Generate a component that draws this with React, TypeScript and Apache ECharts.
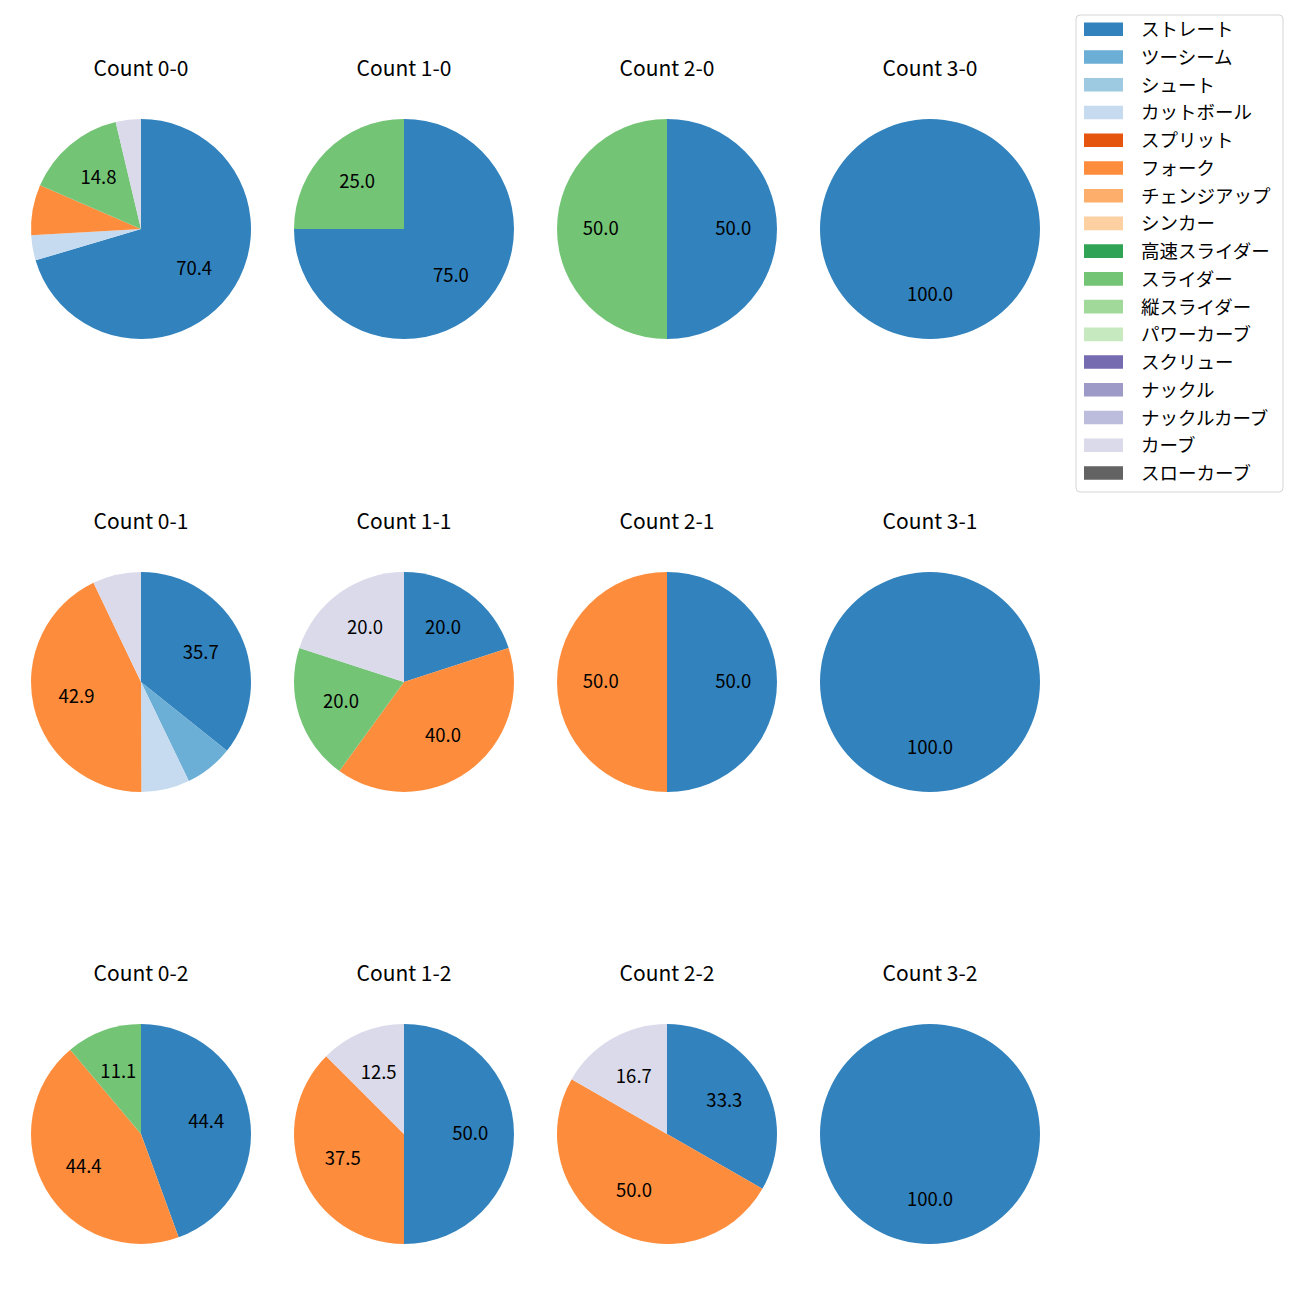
import React, { useEffect, useRef } from "react";
import * as echarts from "echarts";

// Pitch types (legend order) and their colours
const pitchTypes = [
  "ストレート", "ツーシーム", "シュート", "カットボール", "スプリット", "フォーク",
  "チェンジアップ", "シンカー", "高速スライダー", "スライダー", "縦スライダー",
  "パワーカーブ", "スクリュー", "ナックル", "ナックルカーブ", "カーブ", "スローカーブ",
];
const pitchColors = [
  "#3182bd", "#6baed6", "#9ecae1", "#c6dbef", "#e6550d", "#fd8d3c",
  "#fdae6b", "#fdd0a2", "#31a354", "#74c476", "#a1d99b",
  "#c7e9c0", "#756bb1", "#9e9ac8", "#bcbddc", "#dadaeb", "#636363",
];

// Per-count data (percentages)
const count00Names = ["ストレート", "カットボール", "フォーク", "スライダー", "カーブ"];
const count00Values = [70.4, 3.7, 7.4, 14.8, 3.7];
const count10Names = ["ストレート", "スライダー"];
const count10Values = [75.0, 25.0];
const count20Names = ["ストレート", "スライダー"];
const count20Values = [50.0, 50.0];
const count30Names = ["ストレート"];
const count30Values = [100.0];

const count01Names = ["ストレート", "ツーシーム", "カットボール", "フォーク", "カーブ"];
const count01Values = [35.7, 7.1, 7.1, 42.9, 7.1];
const count11Names = ["ストレート", "フォーク", "スライダー", "カーブ"];
const count11Values = [20.0, 40.0, 20.0, 20.0];
const count21Names = ["ストレート", "フォーク"];
const count21Values = [50.0, 50.0];
const count31Names = ["ストレート"];
const count31Values = [100.0];

const count02Names = ["ストレート", "フォーク", "スライダー"];
const count02Values = [44.4, 44.4, 11.1];
const count12Names = ["ストレート", "フォーク", "カーブ"];
const count12Values = [50.0, 37.5, 12.5];
const count22Names = ["ストレート", "フォーク", "カーブ"];
const count22Values = [33.3, 50.0, 16.7];
const count32Names = ["ストレート"];
const count32Values = [100.0];

const panelTitles = [
  ["Count 0-0", "Count 1-0", "Count 2-0", "Count 3-0"],
  ["Count 0-1", "Count 1-1", "Count 2-1", "Count 3-1"],
  ["Count 0-2", "Count 1-2", "Count 2-2", "Count 3-2"],
];
const panelNames = [
  [count00Names, count10Names, count20Names, count30Names],
  [count01Names, count11Names, count21Names, count31Names],
  [count02Names, count12Names, count22Names, count32Names],
];
const panelValues = [
  [count00Values, count10Values, count20Values, count30Values],
  [count01Values, count11Values, count21Values, count31Values],
  [count02Values, count12Values, count22Values, count32Values],
];

// Layout
const colX = [141, 404, 667, 930];
const rowY = [229, 682, 1134];
const titleY = [67, 520, 972];
const pieR = 110;
const FONT = "'Noto Sans CJK JP', 'Noto Sans', sans-serif";

function colorOf(name: string): string {
  const i = pitchTypes.indexOf(name);
  return i >= 0 ? pitchColors[i] : "#999";
}

export default function App() {
  const ref = useRef<HTMLDivElement>(null);
  useEffect(() => {
    if (!ref.current) return;
    const chart = echarts.init(ref.current, undefined, { renderer: "svg" });

    const titles: any[] = [];
    const series: any[] = [];
    for (let r = 0; r < 3; r++) {
      for (let c = 0; c < 4; c++) {
        const names = panelNames[r][c];
        const vals = panelValues[r][c];
        titles.push({
          text: panelTitles[r][c],
          left: colX[c],
          top: titleY[r],
          textAlign: "center",
          textVerticalAlign: "middle",
          padding: 0,
          textStyle: { fontFamily: FONT, fontSize: 21, fontWeight: "normal", color: "#000" },
        });
        series.push({
          type: "pie",
          center: [colX[c], rowY[r]],
          radius: [0, pieR],
          clockwise: true,
          startAngle: 90,
          silent: true,
          label: { show: false },
          labelLine: { show: false },
          emphasis: { disabled: true },
          data: names.map((n, i) => ({ name: n, value: vals[i], itemStyle: { color: colorOf(n) } })),
        });
        // label layer placed near 0.6 of the radius
        series.push({
          type: "pie",
          center: [colX[c], rowY[r]],
          radius: [pieR * 0.15, pieR],
          clockwise: true,
          startAngle: 90,
          silent: true,
          z: 3,
          label: {
            show: true,
            position: "inside",
            fontFamily: FONT,
            fontSize: 18.5,
            color: "#000",
            offset: [0, -2],
            formatter: (p: any) => (p.value >= 10 ? Number(p.value).toFixed(1) : ""),
          },
          labelLine: { show: false },
          emphasis: { disabled: true },
          itemStyle: { color: "rgba(0,0,0,0)" },
          data: names.map((n, i) => ({ name: n, value: vals[i], itemStyle: { color: "rgba(0,0,0,0)" } })),
        });
      }
    }

    // Legend (drawn as graphic)
    const lgX = 1076, lgY = 15, lgW = 207, lgH = 477;
    const rowGap = 27.73;
    const firstRowY = 29.3;
    const graphics: any[] = [
      {
        type: "rect",
        shape: { x: lgX, y: lgY, width: lgW, height: lgH, r: 4 },
        style: { fill: "#fff", stroke: "#d5d5d5", lineWidth: 1 },
        silent: true,
      },
    ];
    pitchTypes.forEach((name, i) => {
      const cy = firstRowY + i * rowGap;
      graphics.push({
        type: "rect",
        shape: { x: 1084, y: cy - 6.8, width: 39, height: 13.6 },
        style: { fill: pitchColors[i] },
        silent: true,
      });
      graphics.push({
        type: "text",
        x: 1141,
        y: cy - 1,
        style: {
          text: name,
          fill: "#000",
          font: `18.5px ${FONT}`,
          verticalAlign: "middle",
          align: "left",
        },
        silent: true,
      });
    });

    chart.setOption({
      animation: false,
      backgroundColor: "#fff",
      title: titles,
      series,
      graphic: graphics,
    });
    return () => chart.dispose();
  }, []);

  return (
    <div
      ref={ref}
      style={{ position: "absolute", left: 0, top: 0, width: 1300, height: 1300 }}
    />
  );
}
